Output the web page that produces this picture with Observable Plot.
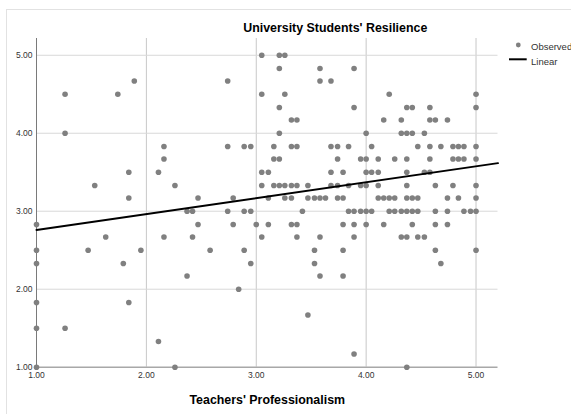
<!DOCTYPE html>
<html>
<head>
<meta charset="utf-8">
<script src="https://cdn.jsdelivr.net/npm/d3@7"></script>
<script src="https://cdn.jsdelivr.net/npm/@observablehq/plot@0.6"></script>
<style>
  html, body { margin: 0; padding: 0; background: #fff; overflow: hidden; }
  #wrap { position: relative; width: 571px; height: 414px; }
  #edge { position: absolute; left: 6px; top: 9px; width: 600px; height: 440px;
          border-left: 1px solid #e2e2e2; border-top: 1px solid #e2e2e2; }
  #chart { position: absolute; left: 0; top: 0; }
  svg { font-family: "Liberation Sans", Arial, sans-serif; }
</style>
</head>
<body>
<div id="wrap"><div id="edge"></div><div id="chart"></div></div>
<script>
// Teachers' professionalism (x) vs. university students' resilience (y), one row of y at a time
const resilienceLevels = [5.00, 4.83, 4.67, 4.50, 4.33, 4.17, 4.00, 3.83, 3.67, 3.50, 3.33, 3.17,
                          3.00, 2.83, 2.67, 2.50, 2.33, 2.17, 2.00, 1.83, 1.67, 1.50, 1.33, 1.17, 1.00];
const professionalismAtLevel = [
  [3.05, 3.21, 3.26],
  [3.21, 3.58, 3.89],
  [1.89, 2.74, 3.58, 3.68],
  [1.26, 1.74, 3.05, 3.26, 4.21, 5.00],
  [3.21, 3.89, 4.37, 4.42, 4.58, 5.00],
  [3.32, 3.37, 4.16, 4.32, 4.58, 4.63, 4.74],
  [1.26, 3.21, 4.00, 4.32, 4.37, 4.42, 4.53],
  [2.16, 2.74, 2.89, 2.95, 3.16, 3.32, 3.37, 3.68, 3.74, 3.84, 4.05, 4.47, 4.58, 4.68, 4.79, 4.84, 4.89, 5.00],
  [2.16, 3.16, 3.21, 3.74, 3.95, 4.00, 4.11, 4.26, 4.37, 4.58, 4.79, 4.84, 4.89, 5.00],
  [1.84, 2.11, 3.05, 3.11, 3.68, 3.79, 4.00, 4.05, 4.11, 4.37, 4.53, 4.58],
  [1.53, 2.26, 3.05, 3.16, 3.21, 3.26, 3.32, 3.37, 3.47, 3.68, 3.74, 3.84, 3.95, 4.00, 4.11, 4.37, 4.63, 4.79, 5.00],
  [1.84, 2.47, 2.79, 3.11, 3.26, 3.32, 3.47, 3.53, 3.58, 3.63, 3.74, 3.79, 4.11, 4.16, 4.21, 4.26, 4.37, 4.42, 4.47, 4.74, 4.84, 5.00],
  [2.37, 2.42, 2.74, 2.89, 2.95, 3.42, 3.84, 3.89, 3.95, 4.00, 4.05, 4.21, 4.26, 4.32, 4.37, 4.42, 4.47, 4.63, 4.74, 4.89, 4.95, 5.00],
  [1.00, 2.47, 2.79, 3.00, 3.11, 3.32, 3.37, 3.79, 3.89, 4.00, 4.16, 4.42, 4.63, 4.74],
  [1.63, 2.16, 2.42, 3.05, 3.37, 3.58, 3.89, 4.32, 4.37, 4.47, 4.53],
  [1.00, 1.47, 1.95, 2.58, 2.89, 3.53, 3.79, 4.63, 5.00],
  [1.00, 1.79, 2.95, 3.53, 4.68],
  [2.37, 3.58, 3.79],
  [2.84],
  [1.00, 1.84],
  [3.47],
  [1.00, 1.26],
  [2.11],
  [3.89],
  [1.00, 2.26, 4.37]
];
// linear fit line: intercept and slope of the reported model
const fitIntercept = 2.556;
const fitSlope = 0.204;
const tickValues = [1, 2, 3, 4, 5];
const xDomain = [1, 5.2];
const yDomain = [1, 5.215];
const chartTitle = "University Students' Resilience";
const xTitle = "Teachers' Professionalism";
const legendLabels = ["Observed", "Linear"];

const points = resilienceLevels.flatMap((y, i) => professionalismAtLevel[i].map(x => ({x, y})));
// fit drawn across the whole x axis
const fit = xDomain.map(x => ({x, y: fitIntercept + fitSlope * x}));

const fmt = d3.format(".2f");
const chart = Plot.plot({
  width: 571,
  height: 414,
  marginLeft: 36,
  marginRight: 73.5,
  marginTop: 38,
  marginBottom: 47.3,
  style: {fontFamily: "'Liberation Sans', Arial, sans-serif", fontSize: "8.5px", color: "#333", background: "transparent"},
  x: {domain: xDomain},
  y: {domain: yDomain},
  marks: [
    Plot.gridX(tickValues.slice(1), {stroke: "#c8c8c8", strokeOpacity: 1}),
    Plot.gridY(tickValues.slice(1), {stroke: "#d8d8d8", strokeOpacity: 1}),
    Plot.ruleX([xDomain[0]], {stroke: "#7a7a7a", strokeWidth: 1}),
    Plot.ruleY([yDomain[0]], {stroke: "#a8a8a8", strokeWidth: 1.6}),
    Plot.axisX(tickValues, {tickSize: 0, tickPadding: 5, tickFormat: fmt, label: null, fill: "#333"}),
    Plot.axisY(tickValues, {tickSize: 0, tickPadding: 4, tickFormat: fmt, label: null, fill: "#333"}),
    Plot.dot(points, {x: "x", y: "y", r: 2.8, fill: "#808080", stroke: "none"}),
    Plot.line(fit, {x: "x", y: "y", stroke: "#000", strokeWidth: 2}),
    Plot.text([chartTitle], {frameAnchor: "top", dx: 68, dy: -10, fontSize: 12.4, fontWeight: "bold", fill: "#000", textAnchor: "middle", lineAnchor: "middle"}),
    Plot.text([xTitle], {frameAnchor: "bottom", dy: 33, fontSize: 12.4, fontWeight: "bold", fill: "#000", textAnchor: "middle", lineAnchor: "middle"})
  ]
});
document.getElementById("chart").appendChild(chart);

// legend to the right of the plot
const svg = d3.select(chart);
const lg = svg.append("g")
  .attr("font-family", "'Liberation Sans', Arial, sans-serif")
  .attr("font-size", 9.5)
  .attr("text-anchor", "start")
  .attr("fill", "#333");
lg.append("circle").attr("cx", 518.3).attr("cy", 45).attr("r", 2.4).attr("fill", "#808080");
lg.append("text").attr("x", 531).attr("y", 46.7).attr("dy", "0.35em").text(legendLabels[0]);
lg.append("line").attr("x1", 509).attr("x2", 526.7).attr("y1", 59.3).attr("y2", 59.3).attr("stroke", "#000").attr("stroke-width", 2);
lg.append("text").attr("x", 531).attr("y", 61.5).attr("dy", "0.35em").text(legendLabels[1]);
</script>
</body>
</html>
